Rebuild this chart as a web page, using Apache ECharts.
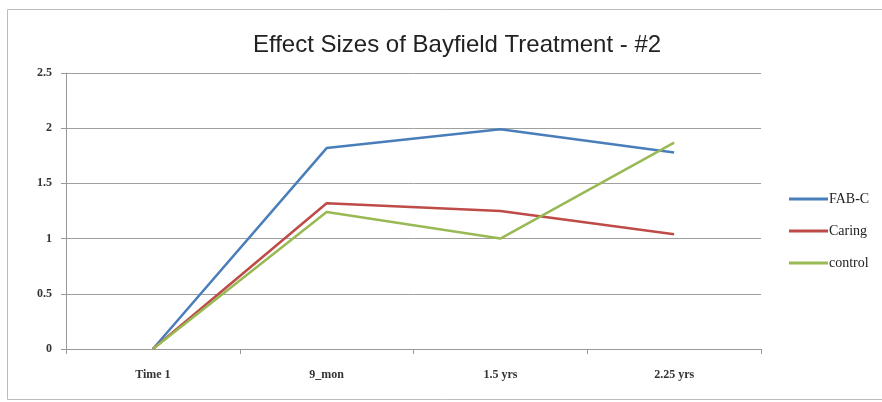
<!DOCTYPE html>
<html>
<head>
<meta charset="utf-8" />
<script src="https://cdn.jsdelivr.net/npm/echarts@6/dist/echarts.min.js"></script>
<title>Effect Sizes of Bayfield Treatment - #2</title>
</head>
<body style="margin:0;background:#fff;">
<div id="main" style="width:882px;height:402px;"></div>
<script type="text/javascript">
// categories and series values
var categories = ['Time 1', '9_mon', '1.5 yrs', '2.25 yrs'];
var fabc = [0, 1.82, 1.99, 1.78];
var caring = [0, 1.32, 1.25, 1.04];
var control = [0, 1.24, 1.0, 1.87];

var chart = echarts.init(document.getElementById('main'));

function line(name, data, color) {
  return {
    name: name,
    type: 'line',
    data: data,
    symbol: 'none',
    lineStyle: { color: color, width: 2.5 },
    itemStyle: { color: color }
  };
}

var option = {
  animation: false,
  backgroundColor: '#fff',
  title: {
    text: 'Effect Sizes of Bayfield Treatment - #2',
    left: 452,
    textAlign: 'center',
    top: 28,
    textStyle: { fontFamily: 'Liberation Sans', fontSize: 24, fontWeight: 'normal', color: '#222' }
  },
  // outer chart frame
  graphic: [{
    type: 'rect',
    shape: { x: 7.5, y: 9.5, width: 880, height: 390 },
    style: { fill: 'none', stroke: '#bbb', lineWidth: 1 }
  }],
  legend: {
    orient: 'vertical',
    left: 784,
    top: 187,
    itemGap: 18,
    itemWidth: 39,
    itemHeight: 3,
    icon: 'rect',
    textStyle: { fontFamily: 'Liberation Serif', fontSize: 14, color: '#222', padding: [0, 0, 0, -4] },
    data: ['FAB-C', 'Caring', 'control']
  },
  grid: { left: 66, right: 121, top: 73, bottom: 53 },
  xAxis: {
    type: 'category',
    data: categories,
    boundaryGap: true,
    axisLine: { lineStyle: { color: '#999' } },
    axisTick: { show: true, length: 5, lineStyle: { color: '#999' } },
    axisLabel: { margin: 20, fontFamily: 'Liberation Serif', fontSize: 12, fontWeight: 'bold', color: '#333' }
  },
  yAxis: {
    type: 'value',
    min: 0,
    max: 2.5,
    interval: 0.5,
    axisLine: { show: true, lineStyle: { color: '#999' } },
    axisTick: { show: true, length: 5, lineStyle: { color: '#999' } },
    splitLine: { lineStyle: { color: '#a0a0a0', width: 1 } },
    axisLabel: { margin: 14, fontFamily: 'Liberation Serif', fontSize: 12, fontWeight: 'bold', color: '#333' }
  },
  series: [
    line('FAB-C', fabc, '#4a7ebb'),
    line('Caring', caring, '#be4b48'),
    line('control', control, '#98b954')
  ]
};
chart.setOption(option);
</script>
</body>
</html>
